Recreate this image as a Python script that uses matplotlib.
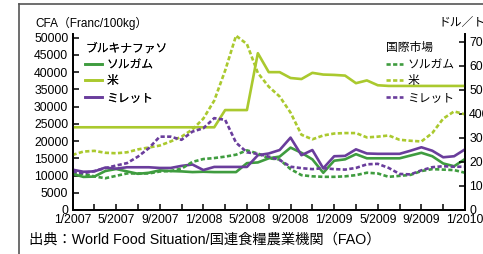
import matplotlib
matplotlib.use("Agg")
import matplotlib.pyplot as plt
from matplotlib.lines import Line2D
import numpy as np

# months from 1/2007 (index 0) to 1/2010 (index 36)
months = list(range(37))
x_tick_labels = ["1/2007", "5/2007", "9/2007", "1/2008", "5/2008", "9/2008",
                 "1/2009", "5/2009", "9/2009", "1/2010"]

# Burkina Faso (CFA Franc / 100kg, left axis)
bf_sorghum = [10500, 9600, 9700, 11300, 11900, 11200, 10500, 10800, 11500, 11300,
              11200, 11000, 11100, 11000, 11000, 11000, 13600, 13800, 15000, 15500,
              18100, 16600, 14700, 10800, 14300, 14700, 16200, 15000, 15000, 15000,
              15000, 15800, 16600, 15600, 13500, 12700, 14800]
bf_rice = [24000] * 14 + [29000, 29000, 29000, 45500, 40000, 40000, 38300, 38000,
                          39800, 39300, 39200, 39000, 36800, 37600, 36200] + [36000] * 8
bf_millet = [11700, 11100, 11200, 12300, 12000, 12400, 12400, 12400, 12200, 12200,
             12800, 13200, 11600, 12500, 12500, 12500, 12500, 15900, 16400, 17400,
             21000, 15900, 17400, 12100, 15600, 15700, 17600, 16400, 16300, 16300,
             16300, 17200, 18200, 17200, 15300, 15600, 17600]

# International market (USD / t, right axis)
int_sorghum = [155, 150, 140, 132, 142, 152, 152, 152, 160, 162,
               172, 200, 212, 216, 222, 230, 248, 235, 215, 210,
               170, 145, 140, 138, 138, 140, 145, 155, 152, 138,
               142, 146, 162, 170, 168, 166, 155]
int_rice = [229, 243, 246, 238, 236, 240, 252, 260, 268, 285,
            305, 335, 380, 455, 580, 725, 690, 570, 513, 472,
            405, 313, 294, 310, 318, 320, 320, 302, 305, 310,
            292, 288, 285, 320, 380, 410, 398]
int_millet = [160, 153, 162, 174, 185, 195, 222, 257, 305, 305,
              292, 326, 340, 382, 375, 280, 240, 233, 222, 208,
              180, 174, 170, 174, 170, 168, 175, 190, 192, 175,
              150, 148, 165, 178, 182, 180, 180]

c_sorghum = "#3f9c3f"
c_rice = "#aac92e"
c_millet = "#6a3d9c"

latin_cjk = ["Liberation Sans", "Noto Sans CJK JP", "DejaVu Sans"]
cjk = ["Noto Sans CJK JP", "Liberation Sans", "DejaVu Sans"]
plt.rcParams["font.family"] = latin_cjk

W, H = 483, 254
fig = plt.figure(figsize=(W / 100, H / 100), dpi=100)
ax = fig.add_axes([72.5 / W, 1 - 210 / H, (465 - 72.5) / W, (210 - 34) / H])
ax2 = ax.twinx()

lw = 1.9
dash = (0, (1.6, 0.9))
ax.plot(months, bf_sorghum, color=c_sorghum, lw=lw, zorder=3)
ax.plot(months, bf_rice, color=c_rice, lw=lw, zorder=3)
ax.plot(months, bf_millet, color=c_millet, lw=lw, zorder=3)
ax2.plot(months, int_sorghum, color=c_sorghum, lw=lw, ls=dash)
ax2.plot(months, int_rice, color=c_rice, lw=lw, ls=dash)
ax2.plot(months, int_millet, color=c_millet, lw=lw, ls=dash)

ax.set_xlim(0, 36)
ax.set_ylim(0, 51070)
ax2.set_ylim(0, 732)

ax.set_xticks(range(0, 37, 4))
ax.set_xticklabels(x_tick_labels)
ax.set_xticks(range(0, 37, 2), minor=True)
ax.set_yticks(range(0, 50001, 5000))
ax2.set_yticks(range(0, 701, 100))

for a in (ax, ax2):
    for s in a.spines.values():
        s.set_linewidth(1.3)
    a.spines["top"].set_visible(False)
ax.tick_params(axis="both", which="both", direction="in", length=4, width=1.1,
               labelsize=8.8, pad=3)
ax.tick_params(axis="x", which="minor", length=4)
ax2.tick_params(axis="y", direction="in", length=4, width=1.1, labelsize=8.8, pad=3)

# legends
h1 = [Line2D([], [], color=c, lw=lw) for c in (c_sorghum, c_rice, c_millet)]
h2 = [Line2D([], [], color=c, lw=lw, ls=dash) for c in (c_sorghum, c_rice, c_millet)]
labels = ["ソルガム", "米", "ミレット"]
leg1 = ax.legend(h1, labels, title="ブルキナファソ", loc="upper left",
                 bbox_to_anchor=(77 / W, 1 - 33 / H), bbox_transform=fig.transFigure,
                 frameon=False, prop={"family": cjk, "size": 8.5},
                 title_fontproperties={"family": cjk, "size": 8.5},
                 handlelength=1.4, handletextpad=0.4, labelspacing=0.3,
                 borderpad=0.2, alignment="left")
ax.add_artist(leg1)
leg2 = ax2.legend(h2, labels, title="国際市場", loc="upper left",
                  bbox_to_anchor=(378 / W, 1 - 33 / H), bbox_transform=fig.transFigure,
                  frameon=False, prop={"family": cjk, "size": 8.5},
                  title_fontproperties={"family": cjk, "size": 8.5},
                  handlelength=1.4, handletextpad=0.4, labelspacing=0.3,
                  borderpad=0.2, alignment="left")

fig.text(35 / W, 1 - 23 / H, "CFA（Franc/100kg）", family=latin_cjk, fontsize=8.5,
         va="center", ha="left")
fig.text(438 / W, 1 - 22 / H, "ドル／トン", family=cjk, fontsize=8.5,
         va="center", ha="left")
fig.text(29 / W, 1 - 240 / H, "出典：World Food Situation/国連食糧農業機関（FAO）",
         family=latin_cjk, fontsize=10.3, va="center", ha="left")

# outer frame
fig.add_artist(Line2D([19 / W, 19 / W], [0, 1 - 4 / H], color="#555555", lw=1.2,
                      transform=fig.transFigure))
fig.add_artist(Line2D([19 / W, 1], [1 - 4 / H, 1 - 4 / H], color="#555555", lw=1.2,
                      transform=fig.transFigure))

fig.savefig("out.png", dpi=100)
